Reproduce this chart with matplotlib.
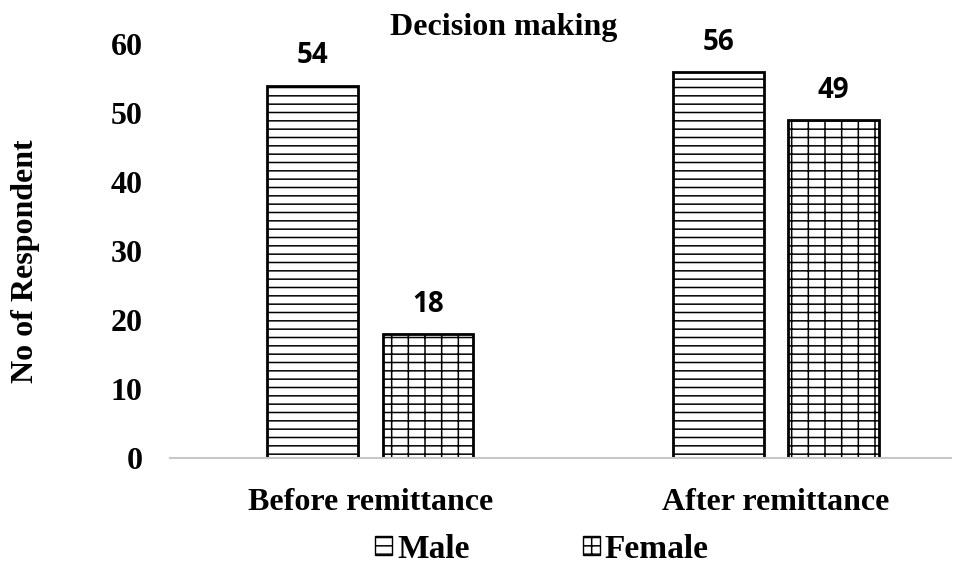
import numpy as np
import matplotlib.pyplot as plt
from matplotlib.patches import Patch

# data
categories = ['Before remittance', 'After remittance']
male = [54, 56]
female = [18, 49]
yticks = [0, 10, 20, 30, 40, 50, 60]

plt.rcParams['hatch.linewidth'] = 1.1
serif = 'Liberation Serif'

fig = plt.figure(figsize=(9.68, 5.66), dpi=100)
ax = fig.add_axes([0.176, 0.191, 0.806, 0.731])

x = np.arange(len(categories))
w = 0.224
off = 0.142
b1 = ax.bar(x - off, male, w, color='white', edgecolor='black', linewidth=2, hatch='--')
b2 = ax.bar(x + off, female, w, color='white', edgecolor='black', linewidth=2, hatch='--|')

for bars, vals in [(b1, male), (b2, female)]:
    for r, v in zip(bars, vals):
        ax.text(r.get_x() + r.get_width() / 2, v + 2.2, str(v), ha='center', va='bottom',
                fontsize=20, fontweight='bold', family='Open Sans')

ax.set_ylim(0, 60)
ax.set_xlim(-0.493, 1.43)
ax.set_yticks(yticks)
ax.set_yticklabels([str(t) for t in yticks], fontsize=23, fontweight='bold', family=serif)
ax.set_xticks(x)
ax.set_xticklabels(categories, fontsize=23, fontweight='bold', family=serif)
ax.tick_params(axis='y', length=0, pad=20)
ax.tick_params(axis='x', length=0, pad=22)
for s in ['top', 'right', 'left']:
    ax.spines[s].set_visible(False)
ax.spines['bottom'].set_color('#c8c8c8')
ax.spines['bottom'].set_linewidth(1.5)

ax.set_ylabel('No of Respondent', fontsize=23, fontweight='bold', family=serif)
ax.yaxis.set_label_coords(-0.167, 0.475)
fig.text(0.52, 0.951, 'Decision making', ha='center', va='center', fontsize=23,
         fontweight='bold', family=serif)

handles = [Patch(facecolor='white', edgecolor='black', hatch='--', label='Male'),
           Patch(facecolor='white', edgecolor='black', hatch='--|', label='Female')]
fig.legend(handles=handles, loc='center', bbox_to_anchor=(0.56, 0.03), ncol=2,
           frameon=False, prop={'family': serif, 'weight': 'bold', 'size': 24},
           handlelength=0.5, handleheight=0.5, handletextpad=0.15, columnspacing=3.4)

fig.savefig('out.png', dpi=100)
